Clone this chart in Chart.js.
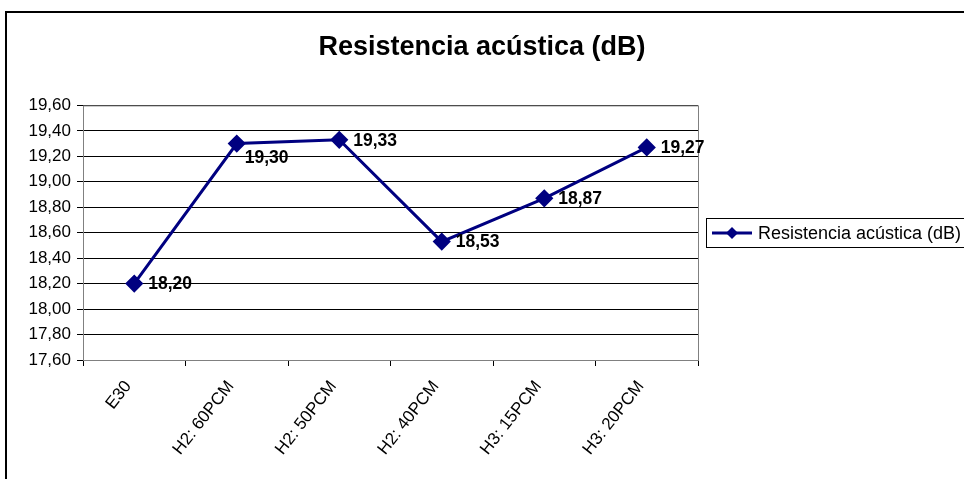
<!DOCTYPE html>
<html>
<head>
<meta charset="utf-8">
<script src="https://cdn.jsdelivr.net/npm/chart.js@4/dist/chart.umd.min.js"></script>
<style>
  html, body { margin: 0; padding: 0; background: #fff; }
</style>
</head>
<body>
<canvas id="grafico" width="964" height="479"></canvas>
<script>
// muestras y resistencia acústica medida (dB)
var muestras = ['E30', 'H2: 60PCM', 'H2: 50PCM', 'H2: 40PCM', 'H3: 15PCM', 'H3: 20PCM'];
var resistencia = [18.20, 19.30, 19.33, 18.53, 18.87, 19.27];
var serieNombre = 'Resistencia acústica (dB)';

var azul = '#000080';
var fuente = 'Arial, "Liberation Sans", sans-serif';

function coma(v) {
    return Number(v).toFixed(2).replace('.', ',');
}

// marco exterior, borde del área de trazado, etiquetas de datos y leyenda
var decoracion = {
    id: 'decoracion',
    beforeDraw: function (chart) {
        var c = chart.ctx;
        c.save();
        c.fillStyle = '#fff';
        c.fillRect(0, 0, chart.width, chart.height);
        c.restore();
    },
    afterDraw: function (chart) {
        var c = chart.ctx;
        var a = chart.chartArea;
        c.save();

        // borde del área de trazado
        c.strokeStyle = '#808080';
        c.lineWidth = 1;
        c.strokeRect(a.left + 0.5, a.top + 0.5, a.right - a.left, a.bottom - a.top);

        // marco del gráfico
        c.strokeStyle = '#000';
        c.lineWidth = 2;
        c.strokeRect(6, 12, 1100, 1000);

        // etiquetas de valores
        var meta = chart.getDatasetMeta(0);
        c.fillStyle = '#000';
        c.font = 'bold 17.5px ' + fuente;
        c.textBaseline = 'middle';
        c.textAlign = 'left';
        meta.data.forEach(function (p, i) {
            var txt = coma(chart.data.datasets[0].data[i]);
            if (i === 1) {
                c.fillText(txt, p.x + 8, p.y + 15);
            } else {
                c.fillText(txt, p.x + 14, p.y + 1);
            }
        });

        // leyenda
        c.fillStyle = '#fff';
        c.fillRect(706, 218, 300, 30);
        c.strokeStyle = '#000';
        c.lineWidth = 1;
        c.strokeRect(706.5, 218.5, 300, 29);
        c.strokeStyle = azul;
        c.lineWidth = 3;
        c.beginPath();
        c.moveTo(712, 233);
        c.lineTo(752, 233);
        c.stroke();
        c.fillStyle = azul;
        c.beginPath();
        c.moveTo(732, 227);
        c.lineTo(738, 233);
        c.lineTo(732, 239);
        c.lineTo(726, 233);
        c.closePath();
        c.fill();
        c.fillStyle = '#000';
        c.font = '18px ' + fuente;
        c.textBaseline = 'middle';
        c.fillText(serieNombre, 758, 234);

        c.restore();
    }
};

var ctx = document.getElementById('grafico').getContext('2d');
var grafico = new Chart(ctx, {
    type: 'line',
    data: {
        labels: muestras,
        datasets: [{
            label: serieNombre,
            data: resistencia,
            borderColor: azul,
            backgroundColor: azul,
            borderWidth: 3,
            pointStyle: 'rectRot',
            pointRadius: 7,
            pointHoverRadius: 7,
            fill: false,
            tension: 0
        }]
    },
    options: {
        responsive: false,
        animation: false,
        events: [],
        layout: {
            padding: 0
        },
        plugins: {
            legend: { display: false },
            tooltip: { enabled: false },
            title: {
                display: true,
                text: 'Resistencia acústica (dB)',
                color: '#000',
                font: { family: fuente, size: 27, weight: 'bold' },
                padding: { top: 31, bottom: 42 }
            }
        },
        scales: {
            x: {
                offset: true,
                afterFit: function (s) { s.height = 119; },
                grid: {
                    offset: true,
                    drawOnChartArea: false,
                    color: '#000',
                    tickLength: 6
                },
                border: { color: '#000', width: 1 },
                ticks: {
                    color: '#000',
                    minRotation: 52,
                    maxRotation: 52,
                    padding: 11,
                    labelOffset: -6,
                    font: { family: fuente, size: 17 }
                }
            },
            y: {
                min: 17.6,
                max: 19.6,
                afterFit: function (s) { s.width = 83; },
                grid: {
                    color: '#000',
                    tickLength: 6
                },
                border: { color: '#000', width: 1 },
                ticks: {
                    stepSize: 0.2,
                    color: '#000',
                    padding: 6,
                    font: { family: fuente, size: 17 },
                    callback: function (v) { return coma(v); }
                }
            },
            // espacio reservado a la derecha para la leyenda
            margen: {
                type: 'linear',
                position: 'right',
                afterFit: function (s) { s.width = 266; },
                grid: { display: false },
                border: { display: false },
                ticks: { display: false }
            }
        }
    },
    plugins: [decoracion]
});
</script>
</body>
</html>
